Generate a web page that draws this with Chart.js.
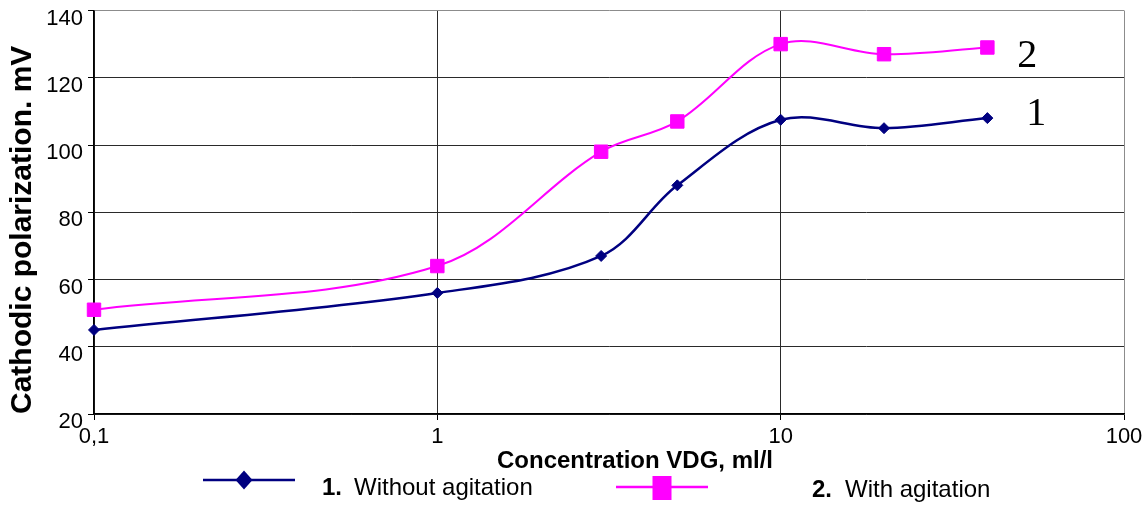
<!DOCTYPE html>
<html>
<head>
<meta charset="utf-8">
<script src="https://cdn.jsdelivr.net/npm/chart.js@4.4.1/dist/chart.umd.min.js"></script>
<style>
    body { margin: 0; background: #fff; }
    #wrap { position: relative; width: 1145px; height: 506px; font-family: 'Liberation Sans', Arial, sans-serif; }
    #chart { position: absolute; left: 0; top: 0; }
    .legend-svg { position: absolute; }
    .legend-text { position: absolute; font-size: 24px; line-height: 24px; color: #000; white-space: nowrap; }
    .legend-text b { font-weight: bold; }
</style>
</head>
<body>
<div id="wrap">
    <canvas id="chart" width="1145" height="506"></canvas>
    <div id="legend"></div>
</div>
<script>
// concentration of VDG, ml/l
const concentration = [0.1, 1, 3, 5, 10, 20, 40];
// cathodic polarization, mV
const withoutAgitation = [45, 56, 67, 88, 107.5, 105, 108];
const withAgitation = [51, 64, 98, 107, 130, 127, 129];

const xTicks = [0.1, 1, 10, 100];
const yTicks = [20, 40, 60, 80, 100, 120, 140];

const seriesNames = ['Without agitation', 'With agitation'];
const seriesNumbers = ['1.', '2.'];
const curveTags = ['1', '2'];

const navy = '#000080';
const magenta = '#ff00ff';

const toPoints = (ys) => concentration.map((x, i) => ({ x: x, y: ys[i] }));

// x title and curve numbers drawn on canvas
const extraText = {
    id: 'extraText',
    afterDraw(chart) {
        const ctx = chart.ctx;
        const area = chart.chartArea;
        ctx.save();
        ctx.fillStyle = '#000';
        ctx.font = 'bold 24px "Liberation Sans", Arial, sans-serif';
        ctx.textAlign = 'center';
        ctx.textBaseline = 'alphabetic';
        ctx.fillText('Concentration VDG, ml/l', (area.left + area.right) / 2 + 26, 468);

        ctx.font = '40px "Liberation Serif", "Times New Roman", serif';
        ctx.textBaseline = 'middle';
        const offsets = [[49, -4], [40, 9.5]];
        chart.data.datasets.forEach((ds, i) => {
            const meta = chart.getDatasetMeta(i);
            const last = meta.data[meta.data.length - 1];
            ctx.fillText(curveTags[i], last.x + offsets[i][0], last.y + offsets[i][1]);
        });
        ctx.restore();
    }
};

const gridDark = '#2a2a2a';
const gridLight = '#8c8c8c';

// keep the plot area where the reference has it
const noPad = (scale) => {
    scale.paddingTop = 0;
    scale.paddingBottom = 0;
    scale.paddingLeft = 0;
    scale.paddingRight = 0;
};

const chart = new Chart(document.getElementById('chart').getContext('2d'), {
    type: 'line',
    data: {
        datasets: [{
            label: seriesNames[0],
            data: toPoints(withoutAgitation),
            borderColor: navy,
            backgroundColor: navy,
            borderWidth: 2.5,
            pointStyle: 'rectRot',
            pointRadius: 5.5,
            pointBorderWidth: 1,
            tension: 0.35,
            clip: false
        }, {
            label: seriesNames[1],
            data: toPoints(withAgitation),
            borderColor: magenta,
            backgroundColor: magenta,
            borderWidth: 2,
            pointStyle: 'rect',
            pointRadius: 9.5,
            pointBorderWidth: 1,
            tension: 0.35,
            clip: false
        }]
    },
    options: {
        responsive: false,
        animation: false,
        layout: { padding: { top: 7.5, right: 21, left: 0, bottom: 0 } },
        plugins: {
            legend: { display: false },
            tooltip: { enabled: false }
        },
        scales: {
            x: {
                type: 'logarithmic',
                min: 0.1,
                max: 100,
                afterBuildTicks: (scale) => { scale.ticks = xTicks.map(v => ({ value: v })); },
                afterFit: (scale) => { scale.height = 92; noPad(scale); },
                ticks: {
                    autoSkip: false,
                    maxRotation: 0,
                    padding: 4,
                    color: '#000',
                    font: { family: '"Liberation Sans", Arial, sans-serif', size: 22 },
                    callback: (v) => String(v).replace('.', ',')
                },
                grid: {
                    color: (c) => (c.tick && c.tick.value === 100) ? gridLight : gridDark,
                    lineWidth: 1,
                    drawTicks: true,
                    tickLength: 6,
                    tickColor: '#000'
                },
                border: { color: '#000', width: 1.5 }
            },
            y: {
                min: 20,
                max: 140,
                afterBuildTicks: (scale) => { scale.ticks = yTicks.map(v => ({ value: v })); },
                afterFit: (scale) => { scale.width = 94; noPad(scale); },
                ticks: {
                    padding: 5,
                    labelOffset: 8,
                    color: '#000',
                    font: { family: '"Liberation Sans", Arial, sans-serif', size: 22 }
                },
                grid: {
                    color: (c) => (c.tick && c.tick.value === 140) ? gridLight : gridDark,
                    lineWidth: 1,
                    drawTicks: true,
                    tickLength: 6,
                    tickColor: '#000'
                },
                border: { color: '#000', width: 1.5 },
                title: {
                    display: true,
                    text: 'Cathodic polarization. mV',
                    align: 'start',
                    color: '#000',
                    padding: { top: 5, bottom: 0 },
                    font: { family: '"Liberation Sans", Arial, sans-serif', size: 30, weight: 'bold' }
                }
            }
        }
    },
    plugins: [extraText]
});

// legend below the plot, built from the series names
const legendItems = [
    { line: [203, 295, 480], marker: 'diamond', text: [322, 354, 475] },
    { line: [616, 708, 487], marker: 'square', text: [812, 845, 477] }
];
const legend = document.getElementById('legend');
legendItems.forEach((item, i) => {
    const color = i === 0 ? navy : magenta;
    const [x1, x2, y] = item.line;
    const w = x2 - x1;
    const svg = document.createElementNS('http://www.w3.org/2000/svg', 'svg');
    svg.setAttribute('class', 'legend-svg');
    svg.setAttribute('width', w);
    svg.setAttribute('height', 30);
    svg.style.left = x1 + 'px';
    svg.style.top = (y - 15) + 'px';
    const mid = w / 2 - 5;
    let marker;
    if (item.marker === 'diamond') {
        marker = `<polygon points="${mid},5.5 ${mid + 8.5},15 ${mid},24.5 ${mid - 8.5},15" fill="${color}"/>`;
    } else {
        marker = `<rect x="${mid - 9.5 + 5}" y="4" width="19" height="24" fill="${color}"/>`;
    }
    svg.innerHTML = `<line x1="0" y1="15" x2="${w}" y2="15" stroke="${color}" stroke-width="2.5"/>` + marker;
    legend.appendChild(svg);

    const num = document.createElement('div');
    num.className = 'legend-text';
    num.style.left = item.text[0] + 'px';
    num.style.top = item.text[2] + 'px';
    num.innerHTML = '<b>' + seriesNumbers[i] + '</b>';
    legend.appendChild(num);

    const txt = document.createElement('div');
    txt.className = 'legend-text';
    txt.style.left = item.text[1] + 'px';
    txt.style.top = item.text[2] + 'px';
    txt.textContent = seriesNames[i];
    legend.appendChild(txt);
});
</script>
</body>
</html>
